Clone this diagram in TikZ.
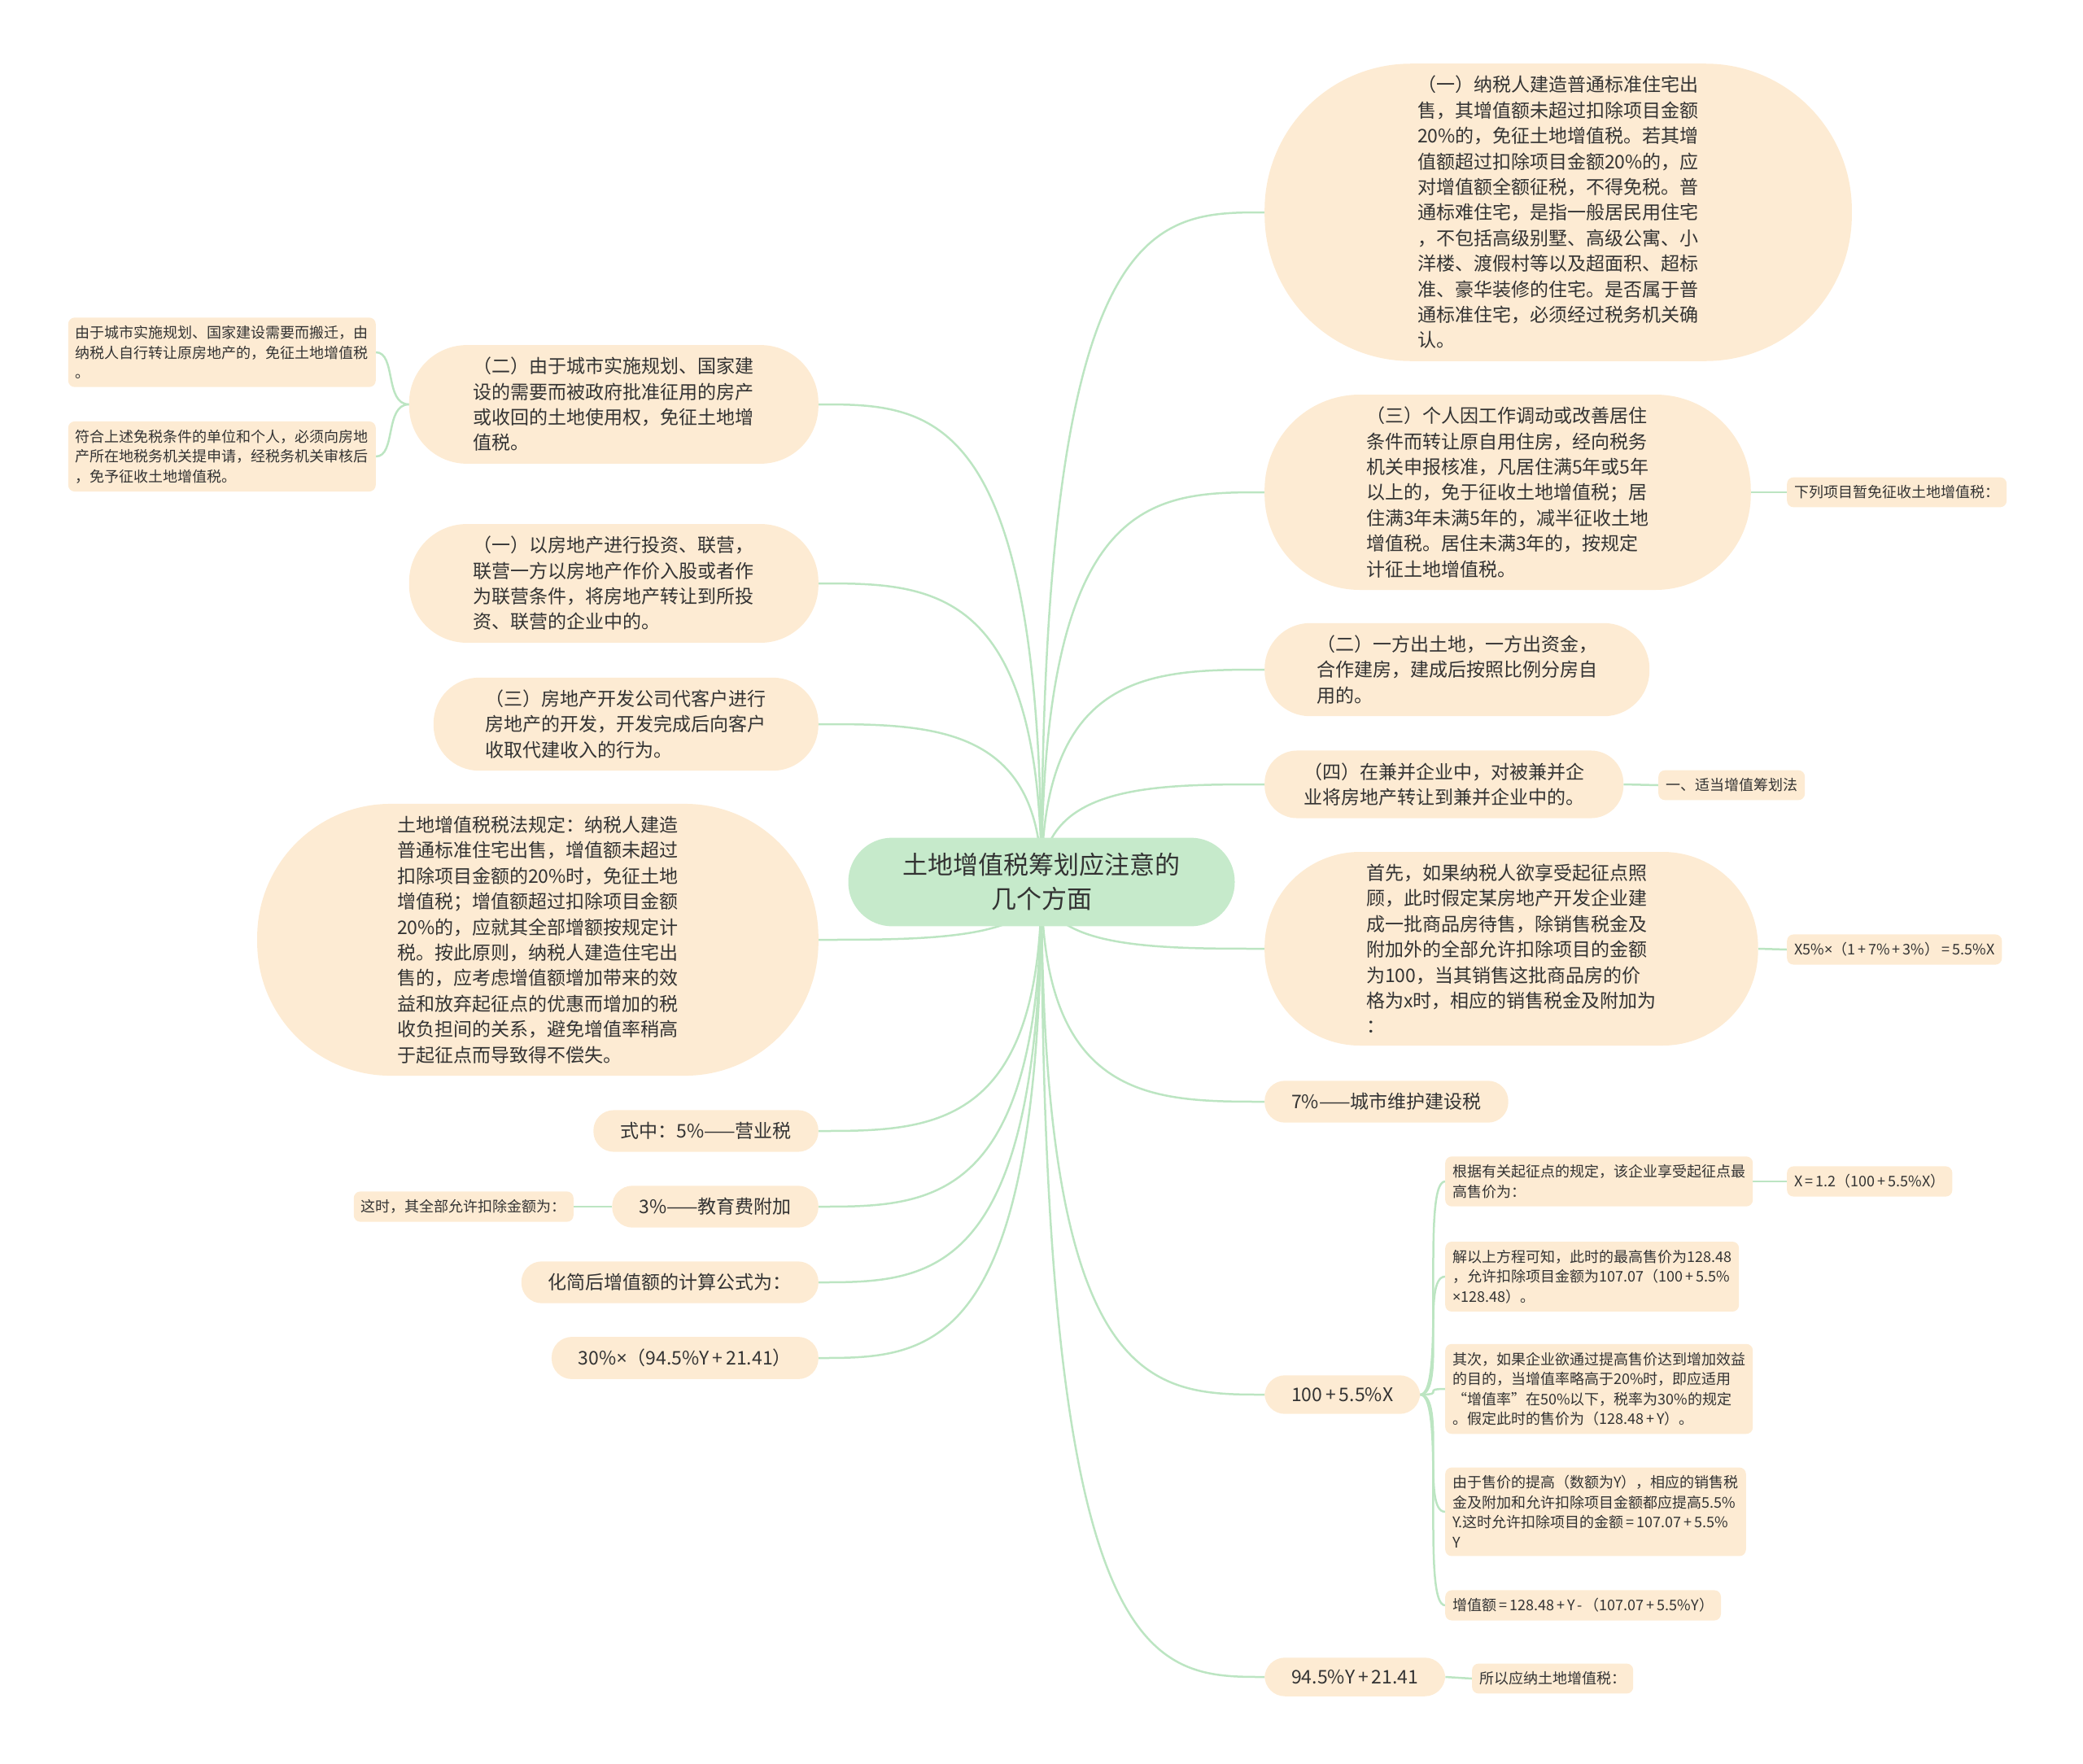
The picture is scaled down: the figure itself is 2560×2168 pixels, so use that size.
\documentclass[tikz,border=0pt]{standalone}
\usepackage{fontspec}
\setmainfont{Noto Sans CJK SC}
\newfontfamily\latinfont{Noto Sans}
\newcommand{\tms}{{\latinfont ×}}
\usetikzlibrary{calc,backgrounds}
\definecolor{peach}{HTML}{FDEBD3}
\definecolor{rootgreen}{HTML}{C6EACB}
\definecolor{linkgreen}{HTML}{BCE5C2}
\definecolor{inkgray}{HTML}{333333}
\tikzset{
  roottopic/.style={rectangle, rounded corners=54pt, fill=rootgreen, text=inkgray, align=center,
    inner xsep=67pt, inner ysep=19pt, font=\fontsize{31}{42}\selectfont},
  topic/.style={rectangle, rounded corners=#1, inner xsep={#1+8pt}, inner ysep=15pt, fill=peach,
    text=inkgray, align=left, font=\fontsize{23}{31.4}\selectfont},
  topic/.default=25pt,
  subtopic/.style={rectangle, rounded corners=8pt, fill=peach, text=inkgray, align=left,
    inner xsep=9pt, inner ysep=10pt, font=\fontsize{18}{24.5}\selectfont},
  link/.style={draw=linkgreen, line width=2.5pt},
}
\begin{document}
\begin{tikzpicture}[x=1pt, y=-1pt]
    \useasboundingbox (0,0) rectangle (2560,2168);

    % Tema central
    \node[roottopic] (root) at (1280,1084) {土地增值税筹划应注意的\\几个方面};

    % Ramas de la derecha
    \node[topic=180pt, anchor=west] (R1) at (1554,261) {（一）纳税人建造普通标准住宅出\\售，其增值额未超过扣除项目金额\\20\%的，免征土地增值税。若其增\\值额超过扣除项目金额20\%的，应\\对增值额全额征税，不得免税。普\\通标难住宅，是指一般居民用住宅\\，不包括高级别墅、高级公寓、小\\洋楼、渡假村等以及超面积、超标\\准、豪华装修的住宅。是否属于普\\通标准住宅，必须经过税务机关确\\认。};
    \node[topic=117pt, anchor=west] (R2) at (1554,605) {（三）个人因工作调动或改善居住\\条件而转让原自用住房，经向税务\\机关申报核准，凡居住满5年或5年\\以上的，免于征收土地增值税；居\\住满3年未满5年的，减半征收土地\\增值税。居住未满3年的，按规定\\计征土地增值税。};
    \node[topic=56pt, anchor=west] (R3) at (1554,823) {（二）一方出土地，一方出资金，\\合作建房，建成后按照比例分房自\\用的。};
    \node[topic=40pt, anchor=west] (R4) at (1554,964) {（四）在兼并企业中，对被兼并企\\业将房地产转让到兼并企业中的。};
    \node[topic=117pt, anchor=west] (R5) at (1554,1166) {首先，如果纳税人欲享受起征点照\\顾，此时假定某房地产开发企业建\\成一批商品房待售，除销售税金及\\附加外的全部允许扣除项目的金额\\为100，当其销售这批商品房的价\\格为x时，相应的销售税金及附加为\\：};
    \node[topic, anchor=west] (R6) at (1554,1354) {7\%——城市维护建设税};
    \node[topic, anchor=west] (R7) at (1554,1714) {100\,+\,5.5\%X};
    \node[topic, anchor=west] (R8) at (1554,2061) {94.5\%Y\,+\,21.41};

    % Subramas de la derecha
    \node[subtopic, anchor=west] (R2a) at (2196,605) {下列项目暂免征收土地增值税：};
    \node[subtopic, anchor=west] (R4a) at (2038,965) {一、适当增值筹划法};
    \node[subtopic, anchor=west] (R5a) at (2196,1167) {X5\%\tms（1\,+\,7\%\,+\,3\%）\,=\,5.5\%X};
    \node[subtopic, anchor=west] (c1) at (1776,1452) {根据有关起征点的规定，该企业享受起征点最\\高售价为：};
    \node[subtopic, anchor=west] (c1a) at (2196,1452) {X\,=\,1.2（100\,+\,5.5\%X）};
    \node[subtopic, anchor=west] (c2) at (1776,1569) {解以上方程可知，此时的最高售价为128.48\\，允许扣除项目金额为107.07（100\,+\,5.5\%\\\tms128.48）。};
    \node[subtopic, anchor=west] (c3) at (1776,1707) {其次，如果企业欲通过提高售价达到增加效益\\的目的，当增值率略高于20\%时，即应适用\\“增值率”在50\%以下，税率为30\%的规定\\。假定此时的售价为（128.48\,+\,Y）。};
    \node[subtopic, anchor=west] (c4) at (1776,1858) {由于售价的提高（数额为Y），相应的销售税\\金及附加和允许扣除项目金额都应提高5.5\%\\Y.这时允许扣除项目的金额\,=\,107.07\,+\,5.5\%\\Y};
    \node[subtopic, anchor=west] (c5) at (1776,1973) {增值额\,=\,128.48\,+\,Y\,-\,（107.07\,+\,5.5\%Y）};
    \node[subtopic, anchor=west] (R8a) at (1809,2063) {所以应纳土地增值税：};

    % Ramas de la izquierda
    \node[topic=71pt, anchor=east] (L1) at (1006,497) {（二）由于城市实施规划、国家建\\设的需要而被政府批准征用的房产\\或收回的土地使用权，免征土地增\\值税。};
    \node[topic=71pt, anchor=east] (L2) at (1006,717) {（一）以房地产进行投资、联营，\\联营一方以房地产作价入股或者作\\为联营条件，将房地产转让到所投\\资、联营的企业中的。};
    \node[topic=56pt, anchor=east] (L3) at (1006,890) {（三）房地产开发公司代客户进行\\房地产的开发，开发完成后向客户\\收取代建收入的行为。};
    \node[topic=164pt, anchor=east] (L4) at (1006,1155) {土地增值税税法规定：纳税人建造\\普通标准住宅出售，增值额未超过\\扣除项目金额的20\%时，免征土地\\增值税；增值额超过扣除项目金额\\20\%的，应就其全部增额按规定计\\税。按此原则，纳税人建造住宅出\\售的，应考虑增值额增加带来的效\\益和放弃起征点的优惠而增加的税\\收负担间的关系，避免增值率稍高\\于起征点而导致得不偿失。};
    \node[topic, anchor=east] (L5) at (1006,1390) {式中：5\%——营业税};
    \node[topic, anchor=east] (L6) at (1006,1483) {3\%——教育费附加};
    \node[topic, anchor=east] (L7) at (1006,1576) {化简后增值额的计算公式为：};
    \node[topic, anchor=east] (L8) at (1006,1669) {30\%\tms（94.5\%Y\,+\,21.41）};

    % Subramas de la izquierda
    \node[subtopic, anchor=east] (l1a) at (462,433) {由于城市实施规划、国家建设需要而搬迁，由\\纳税人自行转让原房地产的，免征土地增值税\\。};
    \node[subtopic, anchor=east] (l1b) at (462,561) {符合上述免税条件的单位和个人，必须向房地\\产所在地税务机关提申请，经税务机关审核后\\，免予征收土地增值税。};
    \node[subtopic, anchor=east] (L6a) at (705,1483) {这时，其全部允许扣除金额为：};

    % Conectores (detrás de los nodos)
    \begin{scope}[on background layer]
        \foreach \n in {R1,R2,R3,R4,R5,R6,R7,R8}
            \draw[link] (root.center) .. controls (root.center |- \n.west) and ($(root.center |- \n.west)!0.5!(\n.west)$) .. (\n.west);
        \foreach \n in {L1,L2,L3,L4,L5,L6,L7,L8}
            \draw[link] (root.center) .. controls (root.center |- \n.east) and ($(root.center |- \n.east)!0.5!(\n.east)$) .. (\n.east);
        \foreach \c in {c1,c2,c3,c4,c5}
            \draw[link] (R7.east) .. controls +(32,0) and +(-30,0) .. (\c.west);
        \foreach \c in {l1a,l1b}
            \draw[link] (L1.west) .. controls +(-30,0) and +(25,0) .. (\c.east);
        \draw[link] (R2.east) -- (R2a.west);
        \draw[link] (R4.east) -- (R4a.west);
        \draw[link] (R5.east) -- (R5a.west);
        \draw[link] (c1.east) -- (c1a.west);
        \draw[link] (R8.east) -- (R8a.west);
        \draw[link] (L6.west) -- (L6a.east);
    \end{scope}
\end{tikzpicture}
\end{document}
